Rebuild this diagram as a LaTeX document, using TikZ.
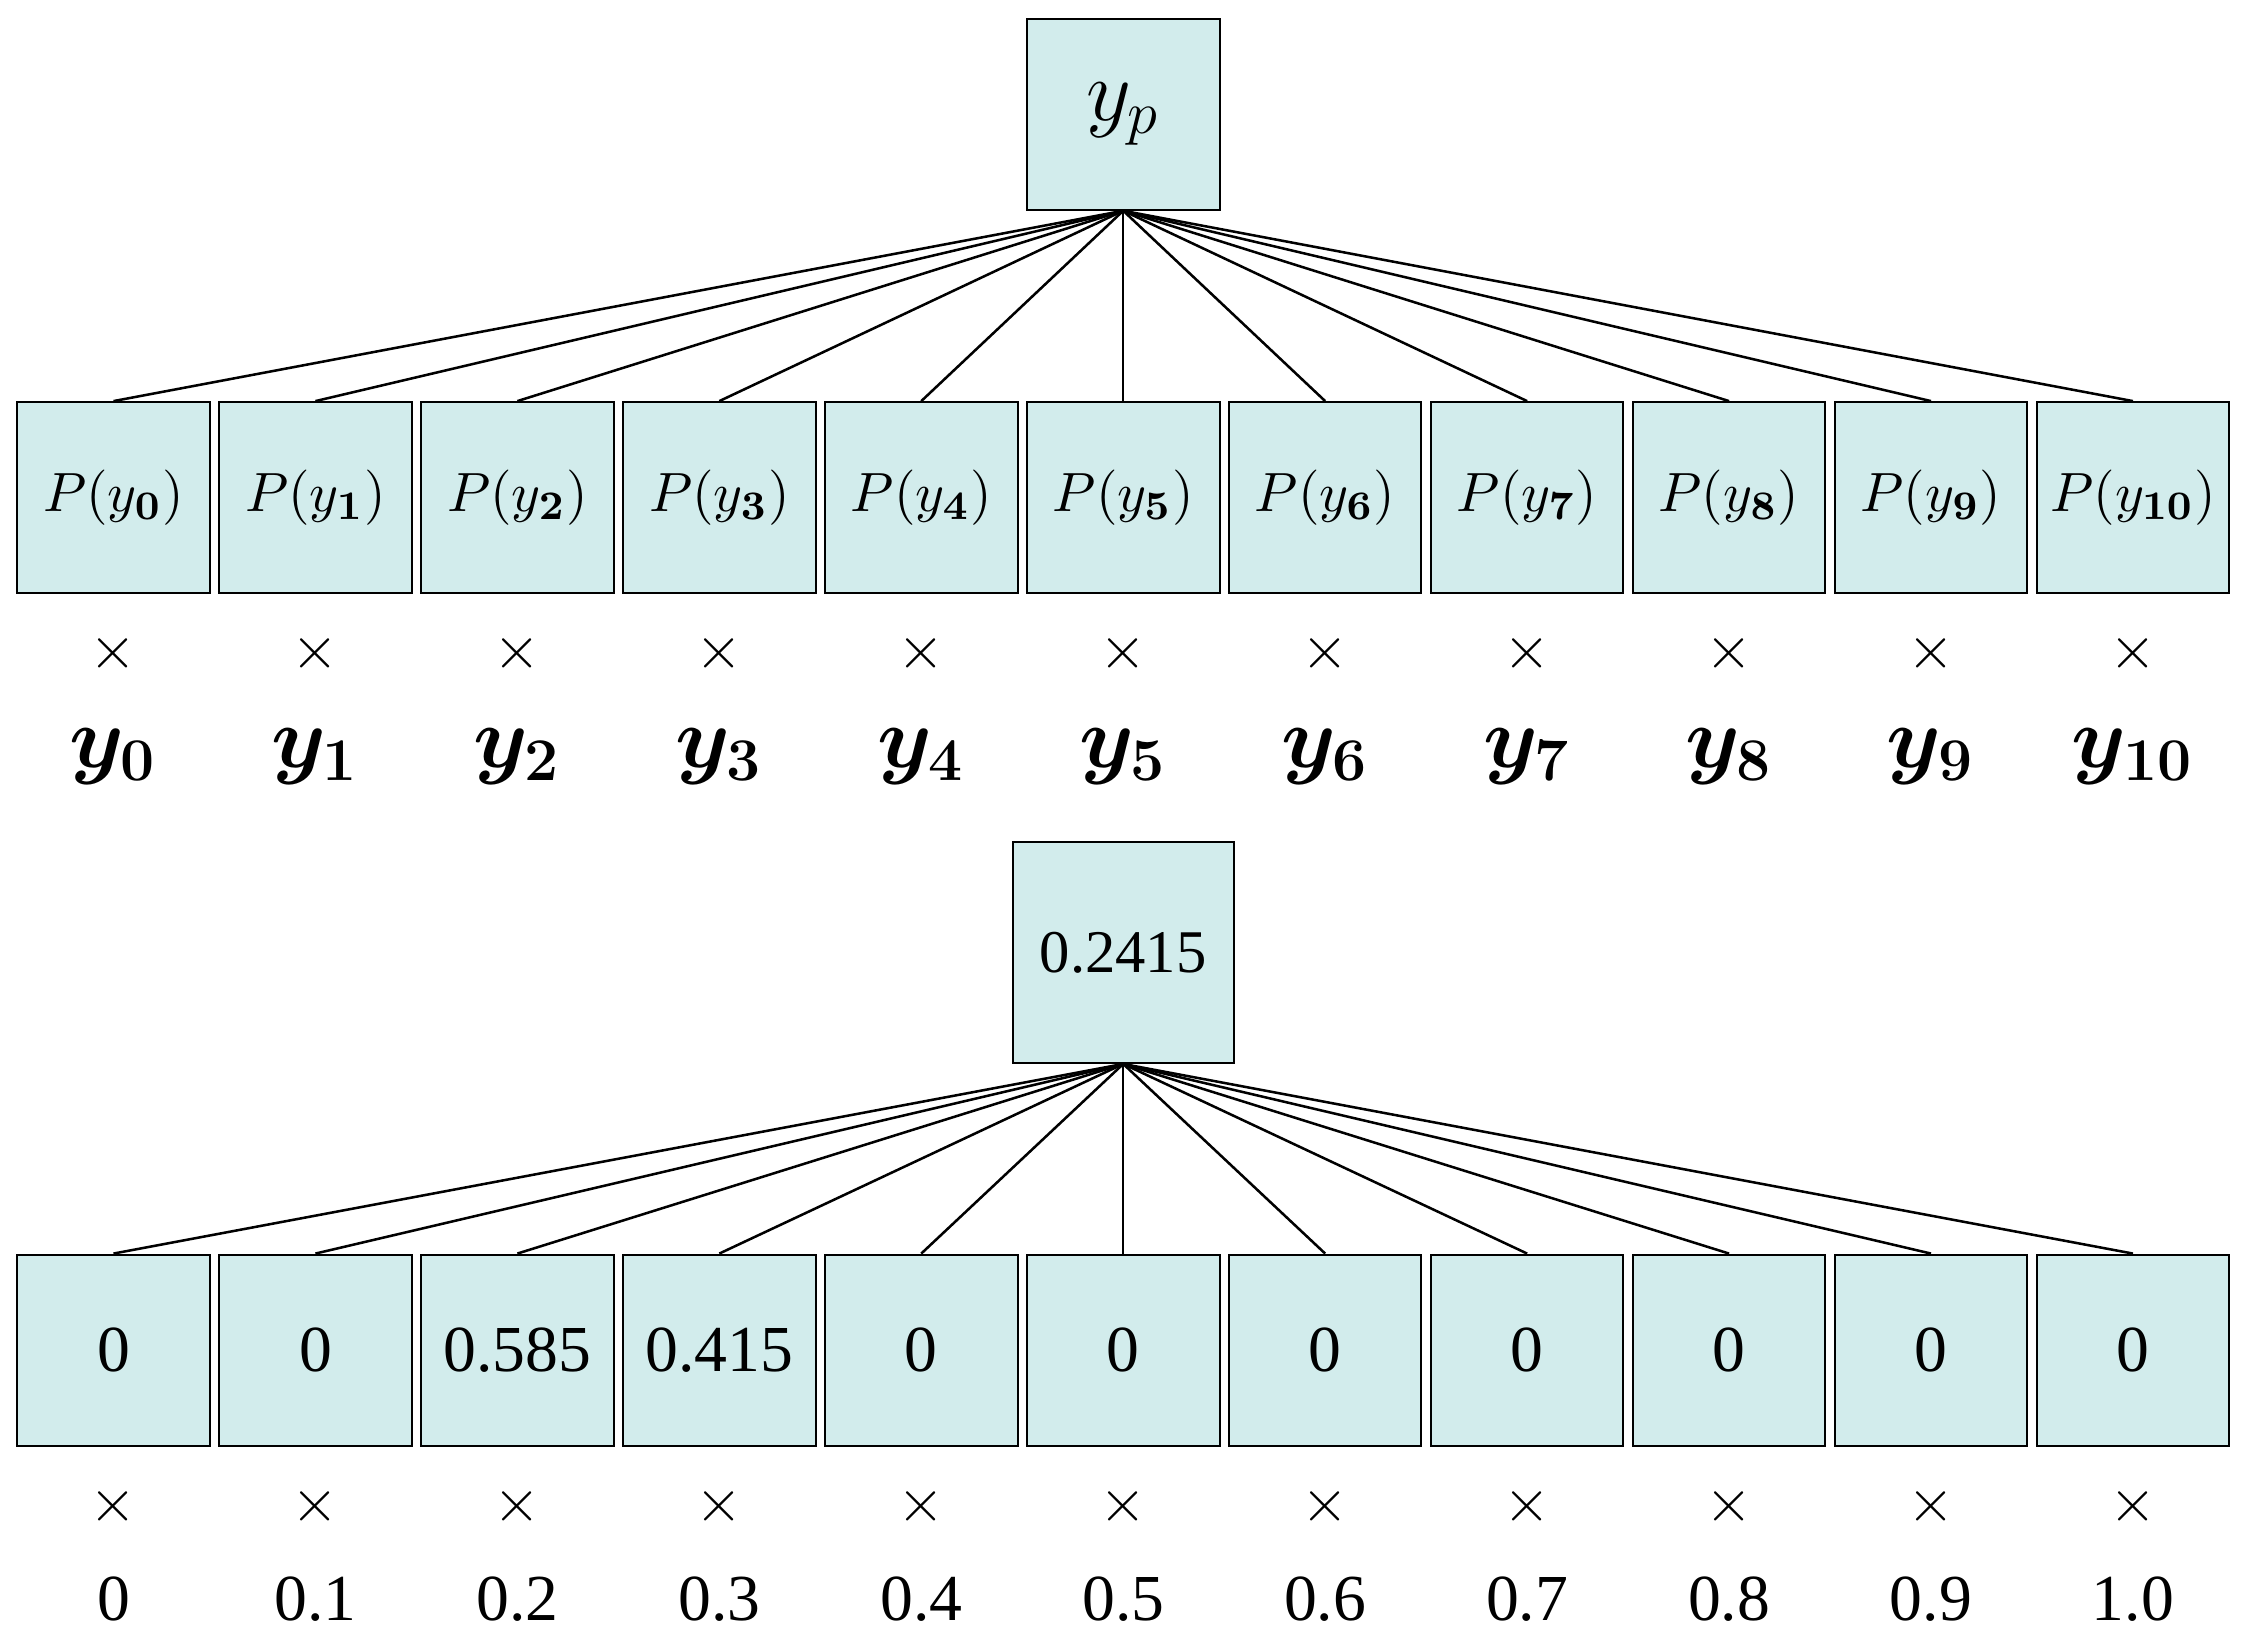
\documentclass[tikz,border=0pt]{standalone}
\usepackage{amsmath,bm}
\usepackage{fontspec}
\newfontfamily\tms{Liberation Serif}
\begin{document}
\begin{tikzpicture}[x=0.01cm,y=-0.01cm,
  bx/.style={draw=black,fill=cyan!40!gray!10!white,fill=boxc,minimum width=1.34cm,minimum height=1.33cm,inner sep=0pt},
  ln/.style={draw=black,line width=0.5pt}]
\definecolor{boxc}{HTML}{D2ECEC}
\useasboundingbox (0,0) rectangle (1563,1143);
\node[bx] (top) at (782,79.5) {\fontsize{17}{20}\selectfont $y_p$};
\node[bx,minimum width=1.54cm,minimum height=1.54cm] (top2) at (782,663) {\fontsize{12}{14}\selectfont\tms 0.2415};
\foreach \i/\v in {0/0,1/0,2/0.585,3/0.415,4/0,5/0,6/0,7/0,8/0,9/0,10/0}{
  \pgfmathsetmacro{\xx}{79+140.6*\i}
  \node[bx] (a\i) at (\xx,346.5) {\fontsize{11}{13}\selectfont $P(y_{\bm{\i}})$};
  \node (ma\i) at (\xx,455) {\fontsize{12}{14}\selectfont $\times$};
  \node (la\i) at (\xx,527) {\fontsize{18}{20}\selectfont $\bm{y_{\i}}$};
  \node[bx] (b\i) at (\xx,940) {\fontsize{13}{15}\selectfont\tms \v};
  \node (mb\i) at (\xx,1049) {\fontsize{12}{14}\selectfont $\times$};
  \draw[ln] (top.south) -- (a\i.north);
  \draw[ln] (top2.south) -- (b\i.north);
}
\foreach \i/\v in {0/0,1/0.1,2/0.2,3/0.3,4/0.4,5/0.5,6/0.6,7/0.7,8/0.8,9/0.9,10/1.0}{
  \pgfmathsetmacro{\xx}{79+140.6*\i}
  \node (lb\i) at (\xx,1113) {\fontsize{13}{15}\selectfont\tms \v};
}
\end{tikzpicture}
\end{document}
